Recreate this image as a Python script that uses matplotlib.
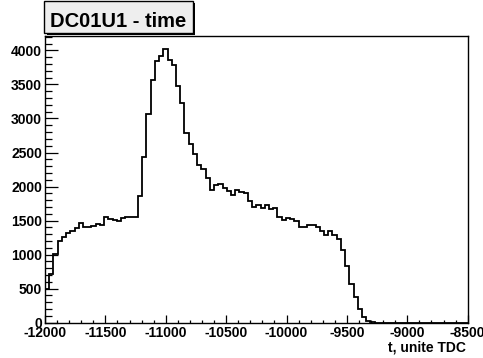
import numpy as np
import matplotlib
matplotlib.use("Agg")
import matplotlib.pyplot as plt
from matplotlib.patches import Rectangle
from matplotlib.ticker import MultipleLocator

plt.rcParams["font.family"] = ["Liberation Sans", "DejaVu Sans"]
plt.rcParams["font.weight"] = "bold"
plt.rcParams["axes.unicode_minus"] = False

# histogramme DC01U1 : 100 canaux de -12000 a -8500
title = "DC01U1 - time"
x_label = "t, unite TDC"
t_min, t_max, n_bins = -12000, -8500, 100

counts = [
    500, 716, 1006, 1201, 1265, 1315, 1348, 1397, 1462, 1412,
    1405, 1417, 1451, 1441, 1550, 1520, 1515, 1500, 1545, 1550,
    1559, 1550, 1855, 2441, 3060, 3570, 3850, 3920, 4015, 3860,
    3780, 3470, 3230, 2790, 2618, 2481, 2312, 2256, 2123, 1951,
    2030, 2035, 1976, 1939, 1883, 1951, 1926, 1908, 1785, 1700,
    1733, 1682, 1728, 1675, 1688, 1559, 1505, 1532, 1522, 1495,
    1412, 1403, 1437, 1442, 1403, 1343, 1282, 1343, 1282, 1224,
    1069, 834, 569, 382, 197, 88, 29, 10,
]
counts = counts + [0] * (n_bins - len(counts))
edges = np.linspace(t_min, t_max, n_bins + 1)

W, H = 483, 358
fig = plt.figure(figsize=(W / 100, H / 100), dpi=100)
fig.patch.set_facecolor("white")

# cadre en pixels
x0, x1 = 45, 467.7
y_top, y_bot = 35.7, 322.7
ax = fig.add_axes([x0 / W, (H - y_bot) / H, (x1 - x0) / W, (y_bot - y_top) / H])

ax.stairs(counts, edges, color="black", linewidth=1.3, baseline=None)

ax.set_xlim(t_min, t_max)
ax.set_ylim(0, max(counts) * 1.05)

ax.xaxis.set_major_locator(MultipleLocator(500))
ax.xaxis.set_minor_locator(MultipleLocator(100))
ax.yaxis.set_major_locator(MultipleLocator(500))
ax.yaxis.set_minor_locator(MultipleLocator(100))

ax.tick_params(which="both", direction="in", top=False, right=False,
               width=0.9, colors="black", labelsize=10)
ax.tick_params(axis="x", which="major", length=5.5, pad=2.2)
ax.tick_params(axis="x", which="minor", length=2.4)
ax.tick_params(axis="y", which="major", length=9, pad=2.2)
ax.tick_params(axis="y", which="minor", length=5)

for s in ax.spines.values():
    s.set_linewidth(1.0)
    s.set_color("black")

for lab in ax.get_xticklabels() + ax.get_yticklabels():
    lab.set_fontweight("bold")

fig.text(465.7 / W, (H - 347) / H, x_label, ha="right", va="center",
         fontsize=10, fontweight="bold")

# boite du titre avec ombre
bx0, bx1, by0, by1 = 44.3, 192.5, 1.0, 32.5
shadow = Rectangle((bx0 + 2.5, H - by1 - 2.0), bx1 - bx0, by1 - by0,
                   transform=None, facecolor="black", edgecolor="none", zorder=5)
box = Rectangle((bx0, H - by1), bx1 - bx0, by1 - by0, transform=None,
                facecolor="#eeeeee", edgecolor="black", linewidth=1.0, zorder=6)
for p in (shadow, box):
    p.set_transform(fig.dpi_scale_trans)
    p.set_xy((p.get_x() / 100, p.get_y() / 100))
    p.set_width(p.get_width() / 100)
    p.set_height(p.get_height() / 100)
    fig.patches.append(p)

fig.text((bx0 + bx1) / 2 / W, (H - 27.3) / H, title, ha="center",
         va="baseline", fontsize=14.5, fontweight="bold", zorder=7)

fig.savefig("out.png", dpi=100, facecolor="white")
